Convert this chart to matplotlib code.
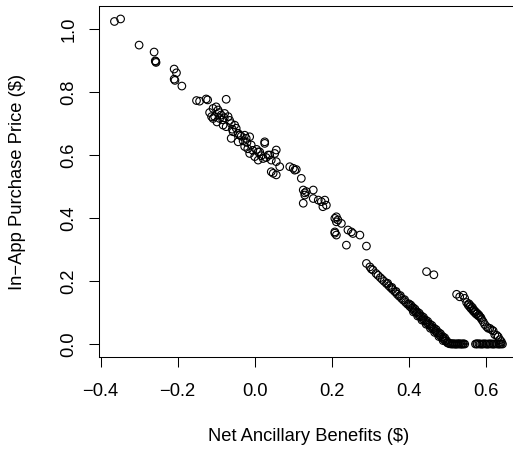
import numpy as np
import matplotlib
matplotlib.use('Agg')
import matplotlib.pyplot as plt

plt.rcParams['font.family'] = ['Liberation Sans', 'DejaVu Sans']

# upper-left sparse points and the first dense cluster
x_top = [-0.364, -0.348, -0.300, -0.261, -0.257, -0.256, -0.258, -0.209, -0.203,
         -0.209, -0.207, -0.189, -0.151, -0.143, -0.126, -0.122, -0.074]
y_top = [1.024, 1.032, 0.949, 0.927, 0.897, 0.894, 0.899, 0.873, 0.861,
         0.841, 0.837, 0.819, 0.773, 0.771, 0.778, 0.775, 0.777]

x_band1 = [-0.108, -0.100, -0.095, -0.104, -0.112, -0.108, -0.091, -0.087, -0.078,
           -0.069, -0.082, -0.074, -0.061, -0.052, -0.048, -0.056, -0.043, -0.061,
           -0.026, -0.022, -0.013, -0.043, -0.026, -0.009, 0.026, -0.013, 0.000,
           0.013, 0.022, 0.035, 0.043, -0.117, -0.098, -0.083, -0.065, -0.035,
           -0.030, -0.018, 0.005, -0.092, -0.079, -0.058, -0.039, -0.020, -0.005,
           0.017, 0.030]
y_band1 = [0.748, 0.753, 0.743, 0.722, 0.722, 0.716, 0.716, 0.727, 0.732,
           0.722, 0.695, 0.690, 0.700, 0.695, 0.685, 0.674, 0.669, 0.653,
           0.663, 0.653, 0.658, 0.642, 0.627, 0.632, 0.642, 0.605, 0.595,
           0.610, 0.589, 0.600, 0.584, 0.735, 0.705, 0.712, 0.710, 0.660,
           0.645, 0.620, 0.618, 0.735, 0.718, 0.682, 0.663, 0.640, 0.615,
           0.598, 0.592]

# middle stretch
x_mid = [0.026, 0.009, 0.009, 0.039, 0.052, 0.056, 0.056, 0.065, 0.043, 0.048,
         0.056, 0.091, 0.100, 0.104, 0.108, 0.121, 0.126, 0.134, 0.130, 0.130,
         0.126, 0.152, 0.152, 0.165, 0.173, 0.182, 0.186, 0.177, 0.208, 0.212,
         0.212, 0.216, 0.225, 0.208, 0.208, 0.212, 0.238, 0.242, 0.251, 0.255,
         0.273, 0.290]
y_mid = [0.637, 0.610, 0.584, 0.600, 0.605, 0.616, 0.579, 0.563, 0.547, 0.542,
         0.537, 0.563, 0.558, 0.552, 0.554, 0.526, 0.489, 0.484, 0.473, 0.480,
         0.447, 0.489, 0.462, 0.457, 0.452, 0.457, 0.441, 0.436, 0.399, 0.388,
         0.404, 0.394, 0.383, 0.356, 0.352, 0.346, 0.314, 0.362, 0.356, 0.351,
         0.346, 0.311]

# lower dense band running down to zero
x_band2 = [0.290, 0.299, 0.303, 0.307, 0.315, 0.320, 0.326, 0.331, 0.336, 0.342,
           0.348, 0.353, 0.358, 0.364, 0.370, 0.375, 0.381, 0.386, 0.392, 0.397,
           0.403, 0.408, 0.414, 0.419, 0.425, 0.430, 0.436, 0.441, 0.447, 0.452,
           0.458, 0.463, 0.469, 0.474, 0.480, 0.485, 0.490, 0.495, 0.500,
           0.505, 0.510, 0.515, 0.520, 0.525, 0.530, 0.535, 0.540, 0.545]
y_band2 = [0.256, 0.245, 0.238, 0.235, 0.224, 0.218, 0.211, 0.205, 0.199, 0.192,
           0.185, 0.179, 0.173, 0.166, 0.158, 0.152, 0.145, 0.139, 0.132, 0.126,
           0.119, 0.113, 0.106, 0.100, 0.093, 0.087, 0.080, 0.074, 0.067, 0.061,
           0.054, 0.048, 0.041, 0.035, 0.028, 0.022, 0.016, 0.010, 0.004,
           0.001, 0.000, 0.000, 0.000, 0.000, 0.000, 0.000, 0.000, 0.000]

# extra points packed into the same band, slightly off the centre line
x_band2b = [0.345, 0.356, 0.367, 0.378, 0.389, 0.400, 0.405, 0.411, 0.416, 0.422,
            0.427, 0.433, 0.438, 0.444, 0.449, 0.455, 0.460, 0.466, 0.471, 0.477,
            0.482, 0.488, 0.493, 0.498, 0.412, 0.423, 0.434, 0.445, 0.456, 0.467,
            0.478, 0.489, 0.502, 0.507, 0.512, 0.517, 0.522, 0.527, 0.532, 0.537,
            0.542]
y_band2b = [0.193, 0.180, 0.167, 0.154, 0.141, 0.128, 0.124, 0.116, 0.111, 0.102,
            0.098, 0.089, 0.085, 0.076, 0.072, 0.063, 0.059, 0.050, 0.046, 0.037,
            0.033, 0.024, 0.020, 0.011, 0.102, 0.089, 0.076, 0.063, 0.050, 0.037,
            0.024, 0.011, 0.004, 0.002, 0.001, 0.001, 0.000, 0.001, 0.001, 0.000,
            0.001]

x_out = [0.446, 0.465]
y_out = [0.230, 0.220]

# right-hand group
x_right = [0.524, 0.532, 0.541, 0.545, 0.550, 0.554, 0.558, 0.562, 0.567, 0.571,
           0.575, 0.580, 0.584, 0.589, 0.593, 0.597, 0.602, 0.606, 0.610, 0.615,
           0.619, 0.623, 0.628, 0.632, 0.636, 0.640,
           0.556, 0.560, 0.565, 0.569, 0.573, 0.578, 0.582, 0.587,
           0.573, 0.578, 0.585, 0.592, 0.600, 0.607, 0.615, 0.622, 0.630, 0.637, 0.643,
           0.576, 0.582, 0.589, 0.596, 0.604, 0.611, 0.619, 0.626, 0.634, 0.640]
y_right = [0.158, 0.150, 0.155, 0.145, 0.132, 0.124, 0.118, 0.112, 0.105, 0.100,
           0.095, 0.090, 0.087, 0.078, 0.071, 0.062, 0.055, 0.050, 0.050, 0.045,
           0.042, 0.030, 0.028, 0.023, 0.014, 0.008,
           0.128, 0.122, 0.116, 0.108, 0.103, 0.097, 0.092, 0.084,
           0.000, 0.000, 0.000, 0.000, 0.000, 0.000, 0.000, 0.000, 0.000, 0.000, 0.000,
           0.001, 0.001, 0.000, 0.001, 0.000, 0.001, 0.000, 0.001, 0.000, 0.001]

x = np.array(x_top + x_band1 + x_mid + x_band2 + x_band2b + x_out + x_right)
y = np.array(y_top + y_band1 + y_mid + y_band2 + y_band2b + y_out + y_right)

xticks = [-0.4, -0.2, 0.0, 0.2, 0.4, 0.6]
yticks = [0.0, 0.2, 0.4, 0.6, 0.8, 1.0]

fs = 13.2
fig = plt.figure(figsize=(5.13, 4.54), dpi=100)
ax = fig.add_axes([0.193, 0.2137, 0.818, 0.773])

ax.scatter(x, y, s=30, facecolors='none', edgecolors='black', linewidths=0.8)

ax.set_xlim(-0.404, 0.685)
ax.set_ylim(-0.041, 1.073)
ax.set_xticks(xticks)
ax.set_xticklabels(['\u22120.4', '\u22120.2', '0.0', '0.2', '0.4', '0.6'])
ax.set_yticks(yticks)
ax.set_yticklabels(['%.1f' % v for v in yticks], rotation=90, va='center')

ax.tick_params(axis='x', direction='out', length=7.2, width=0.75, pad=11.5, labelsize=fs)
ax.tick_params(axis='y', direction='out', length=7.2, width=0.75, pad=8.5, labelsize=fs)
for sp in ax.spines.values():
    sp.set_linewidth(0.75)

ax.set_xlabel('Net Ancillary Benefits ($)', fontsize=fs)
ax.xaxis.set_label_coords(0.5, -0.228)
ax.xaxis.label.set_verticalalignment('center')
ax.set_ylabel('In\u2212App Purchase Price ($)', fontsize=fs)
ax.yaxis.set_label_coords(-0.195, 0.5)
ax.yaxis.label.set_verticalalignment('center')

fig.savefig('out.png', dpi=100)
